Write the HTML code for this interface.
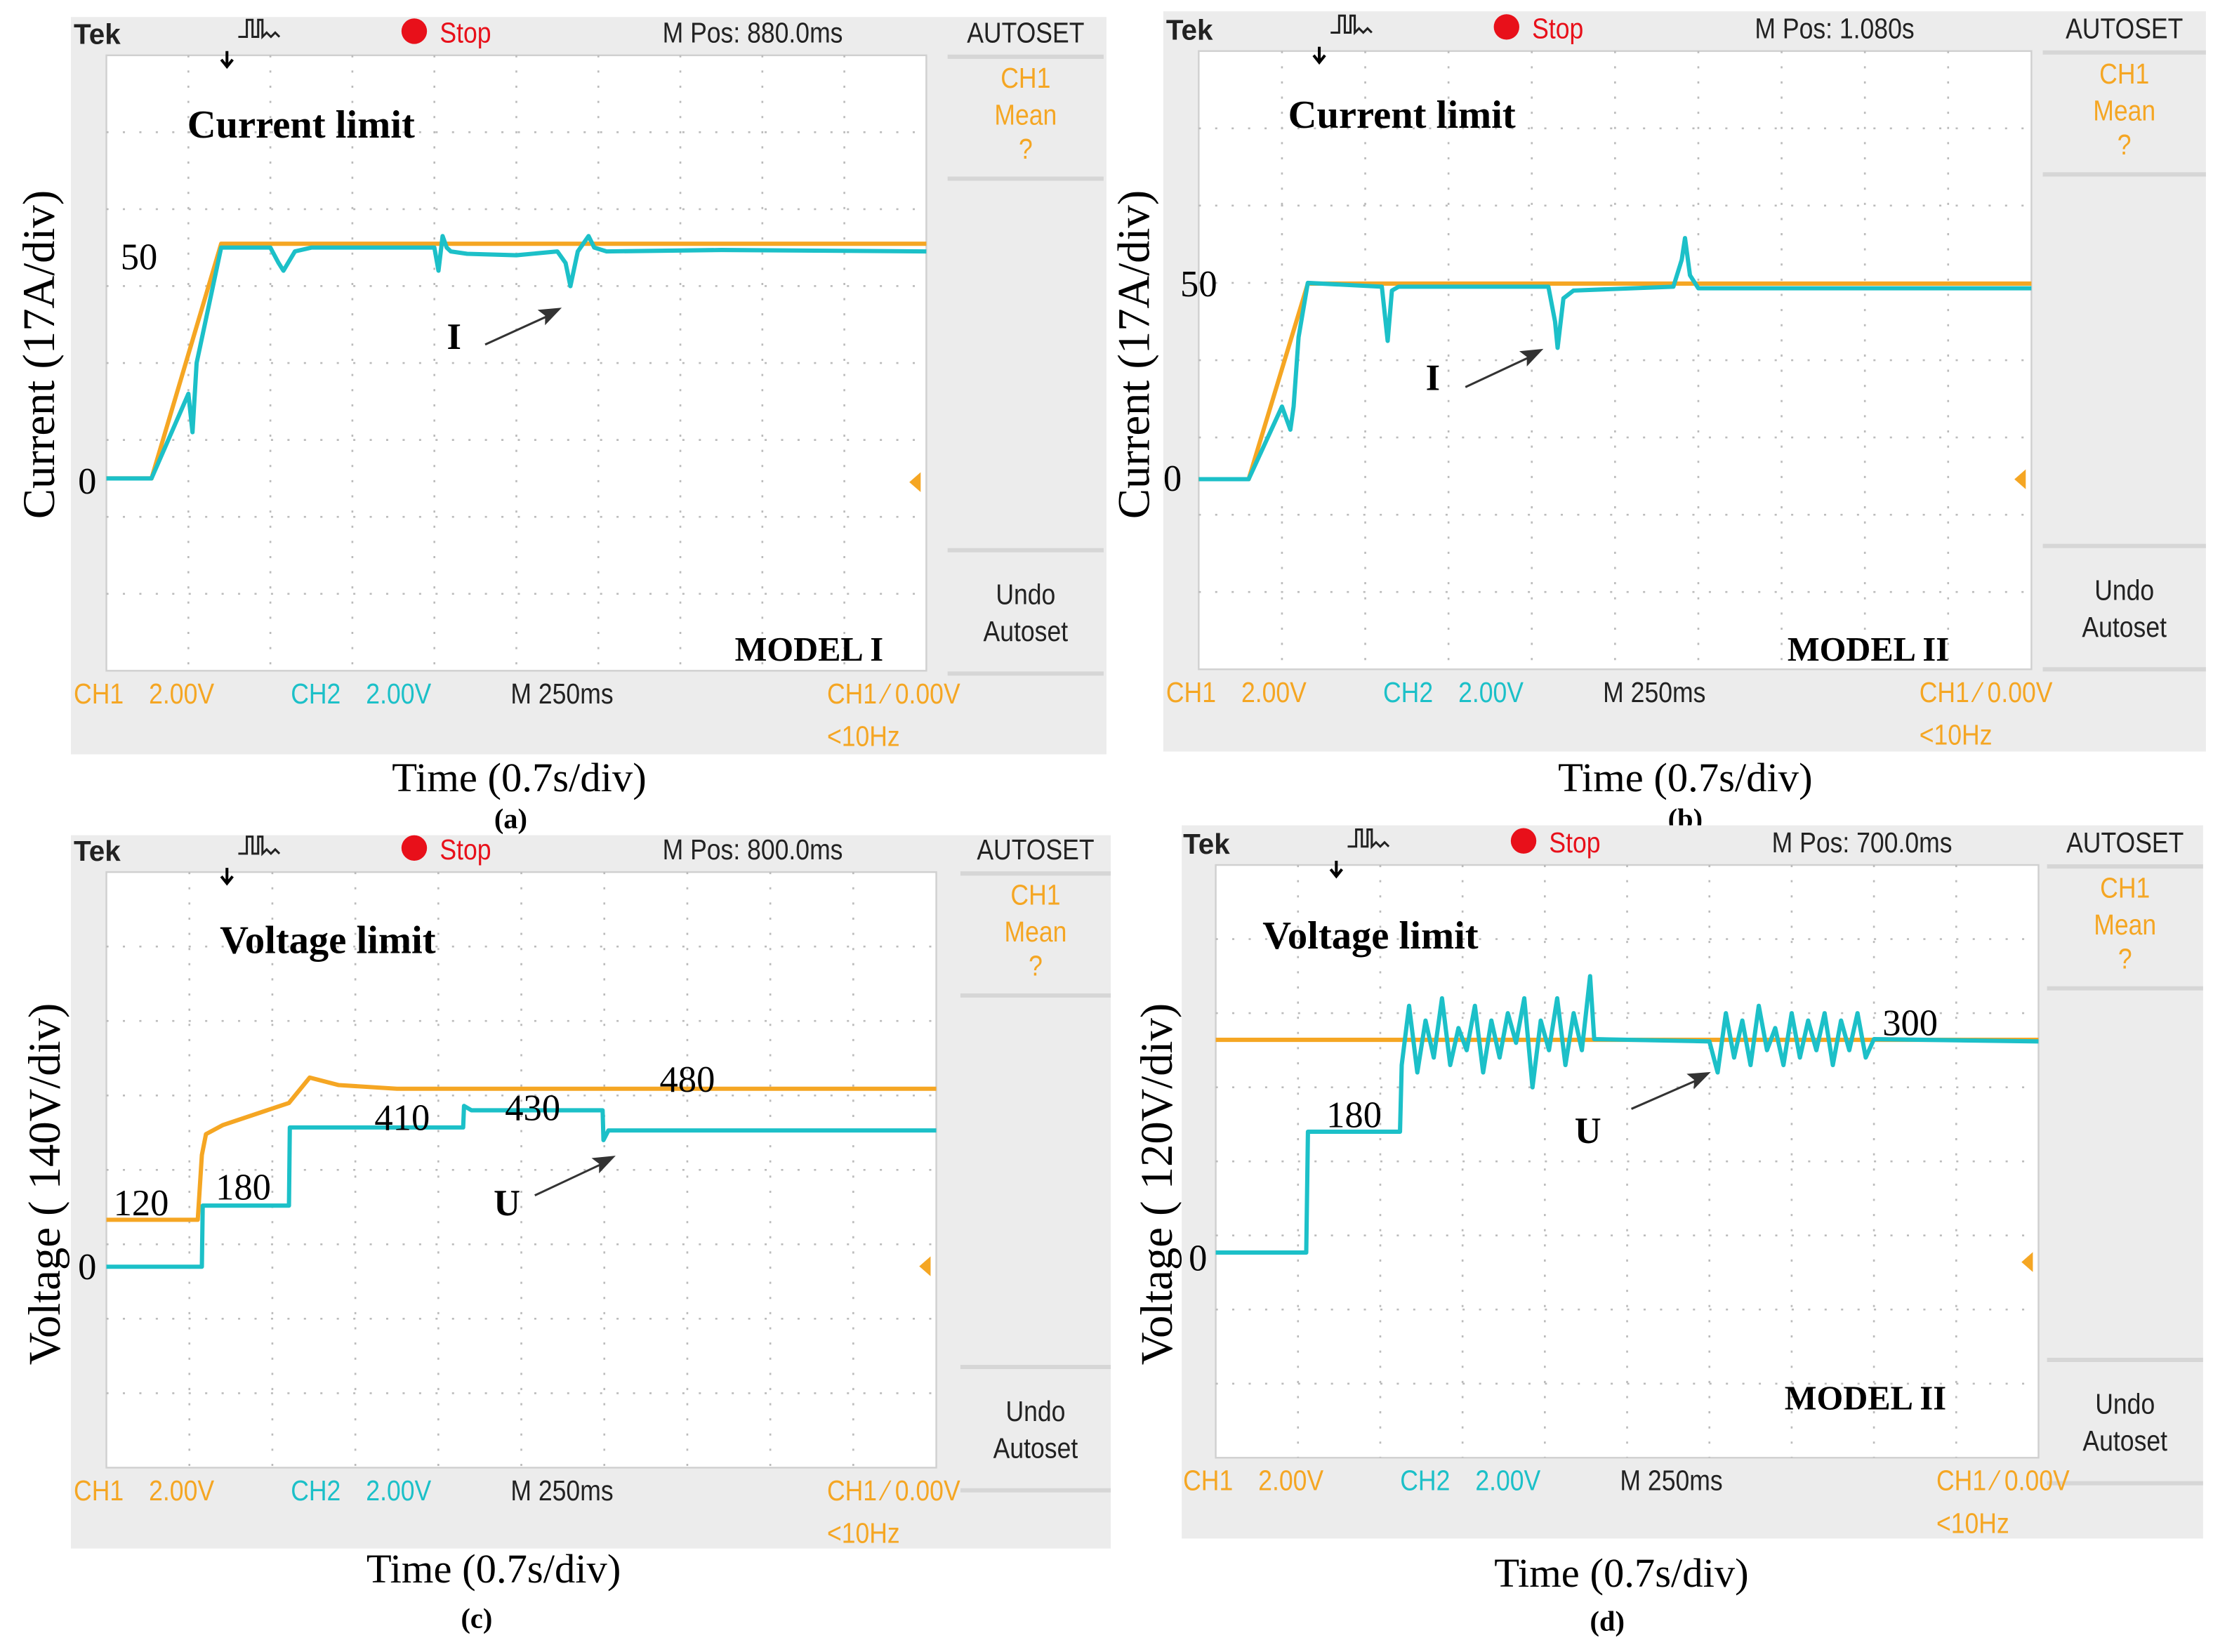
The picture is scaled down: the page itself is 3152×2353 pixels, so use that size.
<!DOCTYPE html>
<html><head><meta charset="utf-8"><style>
html,body{margin:0;padding:0;background:#fff}
svg{display:block}
.tk{font-family:"Liberation Sans",sans-serif;font-size:20px}
.sf{font-family:"Liberation Serif",serif}
</style></head><body>
<svg id="fig" xmlns="http://www.w3.org/2000/svg" width="3152" height="2353" viewBox="0 0 1560 1165" preserveAspectRatio="none">
<rect width="1560" height="1165" fill="#fff"/>
</svg>
<script>
// ---- data (x in time divisions 0..10, y in divisions above bottom of screen 0..8) ----
const aOrangeX=[0,0.55,1.4,10];
const aOrangeY=[2.5,2.5,5.55,5.55];
const aCyanX=[0,0.55,1.0,1.05,1.1,1.4,2.0,2.1,2.16,2.3,2.5,4.0,4.05,4.1,4.15,4.2,4.4,5.0,5.5,5.6,5.66,5.75,5.88,5.95,6.1,7.5,10];
const aCyanY=[2.5,2.5,3.6,3.1,4.0,5.5,5.5,5.3,5.2,5.45,5.5,5.5,5.2,5.65,5.5,5.45,5.42,5.4,5.45,5.3,5.0,5.45,5.65,5.5,5.45,5.47,5.45];
const bOrangeX=[0,0.6,1.31,10];
const bOrangeY=[2.46,2.46,4.99,4.99];
const bCyanX=[0,0.6,1.0,1.1,1.14,1.2,1.31,2.2,2.27,2.32,2.4,4.2,4.28,4.31,4.38,4.5,5.7,5.8,5.84,5.9,6.0,10];
const bCyanY=[2.46,2.46,3.4,3.1,3.4,4.3,5.0,4.95,4.25,4.9,4.95,4.95,4.5,4.16,4.8,4.9,4.95,5.3,5.58,5.1,4.93,4.93];
const cOrangeX=[0,1.1,1.15,1.2,1.4,2.2,2.45,2.8,3.5,10];
const cOrangeY=[3.33,3.33,4.2,4.48,4.6,4.9,5.24,5.14,5.09,5.09];
const cCyanX=[0,1.15,1.16,2.2,2.21,4.3,4.31,4.4,5.98,5.99,6.05,10];
const cCyanY=[2.7,2.7,3.52,3.52,4.57,4.57,4.86,4.8,4.8,4.4,4.53,4.53];
const dOrangeX=[0,10];
const dOrangeY=[5.64,5.64];
const dCyanX=[0,1.1,1.12,2.24,2.26,2.35,2.45,2.55,2.65,2.75,2.85,2.95,3.05,3.15,3.25,3.35,3.45,3.55,3.65,3.75,3.85,3.95,4.05,4.15,4.25,4.35,4.45,4.55,4.6,6.0,6.1,6.2,6.3,6.4,6.5,6.6,6.7,6.8,6.9,7.0,7.1,7.2,7.3,7.4,7.5,7.6,7.7,7.8,7.9,8.0,10];
const dCyanY=[2.77,2.77,4.4,4.4,5.3,6.1,5.2,5.9,5.4,6.2,5.3,5.8,5.5,6.1,5.2,5.9,5.4,6.0,5.6,6.2,5.0,5.9,5.5,6.2,5.3,6.0,5.5,6.5,5.65,5.62,5.2,6.0,5.4,5.9,5.3,6.1,5.5,5.8,5.3,6.0,5.4,5.9,5.5,6.0,5.3,5.9,5.5,6.0,5.4,5.65,5.62];

const NS='http://www.w3.org/2000/svg';
const svg=document.getElementById('fig');
function mk(tag,attrs,parent,text){
  const e=document.createElementNS(NS,tag);
  for(const k in attrs)e.setAttribute(k,attrs[k]);
  if(text!==undefined)e.textContent=text;
  (parent||svg).appendChild(e);return e;
}
const OR='#f5a623',CY='#1cc0c8';

function tkText(g,x,y,txt,col,anchor,w){
  const e=mk('text',{x:x,y:y,class:'tk',fill:col,'text-anchor':anchor||'start',transform:`translate(${x} ${y}) scale(0.88 1) translate(${-x} ${-y})`},g,txt);
  return e;
}

function panel(p){
  const g=mk('g',{});
  
  
  const {gx0,gx1,gy0,gy1}=p;
  const dx=(gx1-gx0)/10, dy=(gy1-gy0)/8;
  const X=v=>gx0+v*dx, Y=v=>gy1-v*dy;
  mk('rect',{x:p.bx0,y:p.by0,width:p.bx1-p.bx0,height:p.by1-p.by0,fill:'#ececec'},g);
  mk('rect',{x:gx0,y:gy0,width:gx1-gx0,height:gy1-gy0,fill:'#fff',stroke:'#d0d0d0','stroke-width':1.2},g);
  for(let i=1;i<10;i++)mk('line',{x1:X(i),x2:X(i),y1:gy0,y2:gy1,stroke:'#bbb','stroke-width':1.3,'stroke-dasharray':'1.5 9.2'},g);
  for(let j=1;j<8;j++)mk('line',{x1:gx0,x2:gx1,y1:Y(j),y2:Y(j),stroke:'#bbb','stroke-width':1.3,'stroke-dasharray':'1.5 10.1'},g);
  const mx=(p.mx0+p.mx1)/2;
  [1,87,349,436].forEach(o=>mk('line',{x1:p.mx0,x2:p.mx1,y1:gy0+o,y2:gy0+o,stroke:'#d6d6d6','stroke-width':3},g));
  const hy=gy0-9;
  let t=mk('text',{x:gx0-23,y:hy+1,class:'tk','font-weight':'bold','font-size':27,fill:'#222'},g,'Tek');
  
  mk('path',{d:`M${gx0+93} ${hy-4}h6v-12h4v12h4v-12h3v12l3 -3 3 3 3 -3 3 3`,fill:'none',stroke:'#222','stroke-width':1.5},g);
  mk('path',{d:`M${gx0+85} ${gy0-3}v10m-4 -4l4 5 4-5`,fill:'none',stroke:'#000','stroke-width':2},g);
  const sc=mk('circle',{cx:gx0+217,cy:hy-8,r:9,fill:'#e8101a'},g);
  
  tkText(g,gx0+235,hy,'Stop','#e8101a');
  tkText(g,gx0+392,hy,p.mpos,'#222');
  t=tkText(g,mx,hy,'AUTOSET','#222','middle');
  
  tkText(g,mx,gy0+23,'CH1',OR,'middle');
  tkText(g,mx,gy0+49,'Mean',OR,'middle');
  tkText(g,mx,gy0+73,'?',OR,'middle');
  tkText(g,mx,gy0+387,'Undo','#222','middle');
  tkText(g,mx,gy0+413,'Autoset','#222','middle');
  const by=gy1+23;
  tkText(g,gx0-23,by,'CH1',OR);
  tkText(g,gx0+30,by,'2.00V',OR);
  tkText(g,gx0+130,by,'CH2',CY);
  tkText(g,gx0+183,by,'2.00V',CY);
  tkText(g,gx0+285,by,'M 250ms','#222');
  tkText(g,gx0+508,by,'CH1 ⁄ 0.00V',OR);
  tkText(g,gx0+508,gy1+53,'<10Hz',OR);
  mk('path',{d:`M${gx1-12} ${p.trig}l8 -7v14z`,fill:OR},g);
  const line=(xs,ys,col,name)=>{
    let d='';xs.forEach((x,i)=>{d+=(i?'L':'M')+X(x).toFixed(1)+' '+Y(ys[i]).toFixed(1)});
    const e=mk('path',{d,fill:'none',stroke:col,'stroke-width':3,'stroke-linejoin':'round'},g);
    
  };
  line(p.ox,p.oy,OR,'ch1-trace');
  line(p.cx,p.cy,CY,'ch2-trace');
  p.ann.forEach(a=>{const e=mk('text',{x:a[0],y:a[1],class:'sf','font-size':a[3]||26,'font-weight':a[4]||'normal',fill:'#000','text-anchor':a[5]||'start',transform:a[6]||''},g,a[2]);
    });
  const ar=p.arrow;
  mk('line',{x1:ar[0],y1:ar[1],x2:ar[2]-8,y2:ar[3]+5,stroke:'#333','stroke-width':1.5},g);
  const ang=Math.atan2(ar[3]-ar[1],ar[2]-ar[0])*180/Math.PI;
  mk('path',{d:'M0 0l-16 -6l3 6l-3 6z',fill:'#333',transform:`translate(${ar[2]},${ar[3]}) rotate(${ang})`},g);
}
panel({name:'panel-a',gx0:75,gx1:653,gy0:39,gy1:473,bx0:50,bx1:780,by0:12,by1:532,mx0:668,mx1:778,mpos:'M Pos: 880.0ms',trig:340,
 ox:aOrangeX,oy:aOrangeY,cx:aCyanX,cy:aCyanY,arrow:[342,243,396,217],
 ann:[[132,97,'Current limit',28,'bold','start','','title'],[85,190,'50',26],[55,348,'0',26],[315,246,'I',26,'bold'],[518,466,'MODEL I',24,'bold','start','','model-label'],
 [38,250,'Current (17A/div)',32,'normal','middle','rotate(-90 38 250)','y-axis-title'],[366,558,'Time (0.7s/div)',29,'normal','middle','','x-axis-title'],[360,584,'(a)',20,'bold','middle','','panel-label']]});
panel({name:'panel-b',gx0:845,gx1:1432,gy0:36,gy1:472,bx0:820,bx1:1555,by0:8,by1:530,mx0:1440,mx1:1555,mpos:'M Pos: 1.080s',trig:338,
 ox:bOrangeX,oy:bOrangeY,cx:bCyanX,cy:bCyanY,arrow:[1033,273,1088,246],
 ann:[[908,90,'Current limit',28,'bold','start','','title'],[832,209,'50',26],[820,346,'0',26],[1005,275,'I',26,'bold'],[1260,466,'MODEL II',24,'bold','start','','model-label'],
 [810,250,'Current (17A/div)',32,'normal','middle','rotate(-90 810 250)','y-axis-title'],[1188,558,'Time (0.7s/div)',29,'normal','middle','','x-axis-title'],[1188,584,'(b)',20,'bold','middle','','panel-label']]});
panel({name:'panel-c',gx0:75,gx1:660,gy0:615,gy1:1035,bx0:50,bx1:783,by0:589,by1:1092,mx0:677,mx1:783,mpos:'M Pos: 800.0ms',trig:893,
 ox:cOrangeX,oy:cOrangeY,cx:cCyanX,cy:cCyanY,arrow:[377,843,434,815],
 ann:[[155,672,'Voltage limit',28,'bold','start','','title'],[80,857,'120',26],[152,846,'180',26],[264,797,'410',26],[356,790,'430',26],[465,770,'480',26],[55,902,'0',26],[348,857,'U',26,'bold'],
 [42,835,'Voltage ( 140V/div)',32,'normal','middle','rotate(-90 42 835)','y-axis-title'],[348,1116,'Time (0.7s/div)',29,'normal','middle','','x-axis-title'],[336,1148,'(c)',20,'bold','middle','','panel-label']]});
panel({name:'panel-d',gx0:857,gx1:1437,gy0:610,gy1:1028,bx0:833,bx1:1553,by0:582,by1:1085,mx0:1443,mx1:1553,mpos:'M Pos: 700.0ms',trig:890,
 ox:dOrangeX,oy:dOrangeY,cx:dCyanX,cy:dCyanY,arrow:[1150,782,1206,756],
 ann:[[890,669,'Voltage limit',28,'bold','start','','title'],[935,795,'180',26],[1327,730,'300',26],[838,896,'0',26],[1110,806,'U',26,'bold'],[1258,994,'MODEL II',24,'bold','start','','model-label'],
 [826,835,'Voltage ( 120V/div)',32,'normal','middle','rotate(-90 826 835)','y-axis-title'],[1143,1119,'Time (0.7s/div)',29,'normal','middle','','x-axis-title'],[1133,1150,'(d)',20,'bold','middle','','panel-label']]});
</script>
</body></html>
